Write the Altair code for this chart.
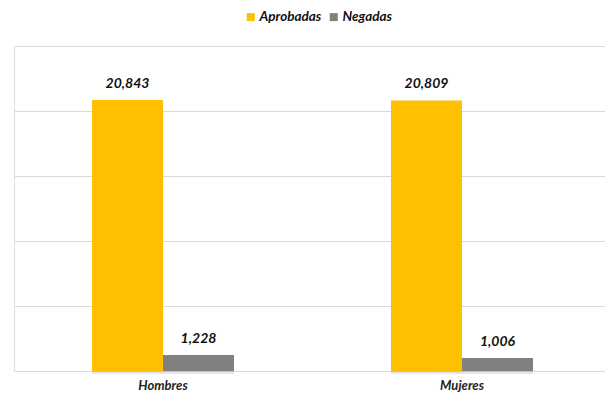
import altair as alt
import pandas as pd

categories = ["Hombres", "Mujeres"]
series = ["Aprobadas", "Negadas"]
aprobadas = [20843, 20809]
negadas = [1228, 1006]
colors = ["#FFC000", "#808080"]

rows = []
for i, c in enumerate(categories):
    rows.append({"cat": c, "serie": series[0], "valor": aprobadas[i]})
    rows.append({"cat": c, "serie": series[1], "valor": negadas[i]})
df = pd.DataFrame(rows)

FONT = "Lato"

x = alt.X("cat:N", sort=categories, title=None,
          scale=alt.Scale(paddingInner=0.525, paddingOuter=0.2508, align=0.52),
          axis=alt.Axis(labelAngle=0, domain=False, ticks=False, labelFont=FONT,
                        labelFontStyle="italic", labelFontWeight="bold", labelFontSize=13,
                        labelColor="#222222", labelPadding=8))
y = alt.Y("valor:Q", title=None,
          scale=alt.Scale(domain=[0, 25000], nice=False),
          axis=alt.Axis(values=[0, 5000, 10000, 15000, 20000, 25000], labels=False,
                        ticks=False, domain=False, grid=True, gridColor="#d9d9d9", gridWidth=1))
xo = alt.XOffset("serie:N", sort=series)
color = alt.Color("serie:N", sort=series, title=None,
                  scale=alt.Scale(domain=series, range=colors),
                  legend=alt.Legend(orient="none", legendX=230, legendY=-36, direction="horizontal",
                                    symbolType="square", symbolSize=64, symbolStrokeWidth=0,
                                    labelFont=FONT, labelFontStyle="italic", labelFontWeight="bold",
                                    labelFontSize=13.5, labelColor="#111111", columnPadding=5,
                                    labelOffset=2, symbolOffset=0))

base = alt.Chart(df)

shadow = base.mark_bar(color="#000000", opacity=0.10, xOffset=4, yOffset=3).encode(
    x=x, xOffset=xo, y=y)

bars = base.mark_bar().encode(x=x, xOffset=xo, y=y, color=color)

labels = base.mark_text(dy=-16, font=FONT, fontStyle="italic", fontWeight="bold",
                        fontSize=14, color="#111111").encode(
    x=x, xOffset=xo, y=y, text=alt.Text("valor:Q", format=","))

chart = alt.layer(shadow, bars, labels).properties(
    width=591, height=325,
    autosize=alt.AutoSizeParams(type="none"),
    padding={"left": 6, "top": 38, "right": 0, "bottom": 24},
).configure_view(stroke=None).configure(background="white")

chart.save("out.html", embed_options={"renderer": "svg", "actions": False})
